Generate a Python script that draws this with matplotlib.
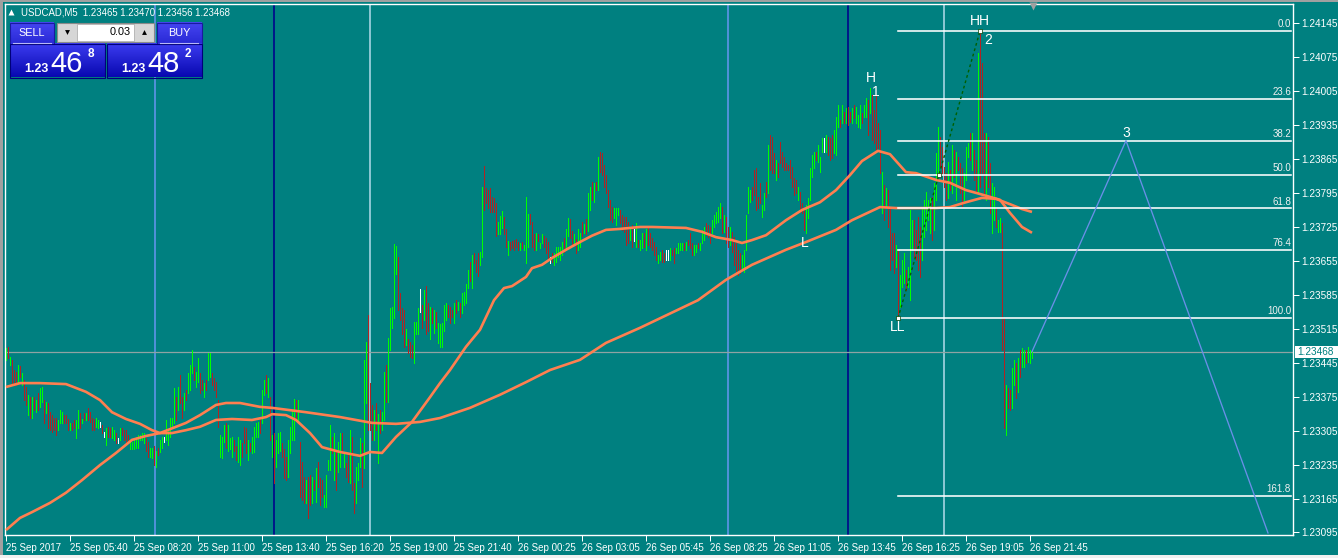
import numpy as np
import matplotlib
matplotlib.use("Agg")
import matplotlib.pyplot as plt
from matplotlib.patches import Rectangle
from matplotlib.transforms import blended_transform_factory
from matplotlib.colors import LinearSegmentedColormap

# ---------------- data (prices in points above 1.23000) ----------------
BASE = 1.23000
PT = 1e-5

bar_hi = [
    475, 477, 457, 450, 430, 426, 440, 438, 424, 410,
    394, 378, 374, 374, 374, 368, 382, 392, 394, 368,
    364, 362, 344, 338, 332, 332, 326, 348, 344, 338,
    338, 330, 320, 320, 326, 326, 348, 342, 330, 342,
    342, 352, 344, 332, 330, 332, 326, 322, 316, 302,
    310, 312, 310, 312, 306, 300, 290, 310, 310, 306,
    306, 296, 286, 282, 286, 292, 296, 296, 300, 300,
    290, 282, 270, 270, 274, 264, 270, 286, 292, 292,
    326, 306, 332, 332, 392, 374, 394, 420, 374, 382,
    388, 424, 440, 471, 436, 426, 455, 424, 410, 404,
    410, 465, 465, 424, 414, 406, 368, 296, 292, 316,
    320, 316, 290, 292, 286, 274, 292, 286, 280, 312,
    310, 286, 280, 292, 312, 320, 322, 332, 388, 410,
    420, 414, 374, 296, 300, 286, 300, 302, 280, 268,
    250, 286, 312, 348, 370, 368, 368, 282, 240, 209,
    203, 209, 213, 209, 203, 228, 240, 207, 203, 173,
    213, 244, 316, 292, 300, 260, 282, 300, 300, 258,
    238, 254, 306, 292, 197, 230, 238, 290, 280, 450,
    487, 544, 404, 358, 348, 362, 340, 348, 344, 426,
    440, 497, 558, 560, 689, 685, 663, 588, 558, 554,
    515, 495, 487, 481, 530, 530, 558, 598, 564, 594,
    604, 568, 560, 558, 554, 550, 528, 524, 528, 564,
    568, 564, 560, 554, 568, 574, 570, 568, 588, 590,
    608, 637, 653, 667, 671, 657, 671, 673, 807, 850,
    806, 801, 806, 787, 785, 775, 735, 747, 757, 745,
    721, 697, 693, 697, 699, 701, 693, 691, 693, 687,
    787, 751, 751, 735, 711, 713, 711, 691, 711, 707,
    703, 693, 663, 671, 671, 683, 683, 683, 693, 703,
    721, 743, 741, 717, 711, 701, 721, 713, 735, 731,
    741, 795, 807, 817, 815, 817, 869, 880, 877, 853,
    832, 801, 781, 766, 764, 764, 764, 760, 750, 746,
    746, 735, 725, 729, 721, 733, 698, 698, 713, 713,
    721, 723, 713, 702, 694, 684, 667, 673, 678, 671,
    678, 678, 682, 678, 682, 682, 692, 692, 692, 692,
    694, 698, 713, 692, 688, 688, 692, 692, 719, 725,
    733, 729, 725, 739, 750, 756, 766, 774, 766, 750,
    746, 725, 725, 715, 704, 692, 678, 671, 667, 678,
    750, 807, 801, 807, 842, 847, 787, 816, 770, 795,
    818, 894, 915, 911, 878, 863, 857, 900, 880, 869,
    857, 853, 863, 849, 826, 822, 807, 797, 774, 764,
    770, 785, 847, 873, 880, 880, 894, 869, 908, 908,
    915, 911, 908, 915, 925, 952, 977, 946, 977, 962,
    970, 972, 962, 970, 977, 972, 956, 977, 960, 977,
    991, 987, 1012, 997, 966, 997, 939, 925, 838, 812,
    805, 801, 766, 713, 713, 688, 678, 626, 657, 671,
    636, 642, 760, 739, 739, 719, 746, 725, 766, 781,
    797, 781, 785, 787, 816, 878, 931, 911, 890, 849,
    836, 859, 842, 894, 884, 880, 869, 857, 847, 836,
    890, 898, 919, 919, 884, 863, 1084, 1129, 1063, 919,
    919, 911, 857, 816, 807, 764, 739, 743, 733, 537,
    399, 393, 389, 434, 451, 444, 455, 471, 475, 471,
    471, 477, 471, 471,
]

bar_lo = [
    450, 455, 440, 404, 400, 400, 404, 416, 400, 368,
    358, 338, 332, 332, 348, 344, 348, 354, 364, 320,
    342, 310, 306, 302, 306, 296, 306, 320, 320, 320,
    320, 306, 306, 306, 310, 290, 310, 310, 320, 326,
    326, 326, 322, 306, 306, 312, 310, 312, 300, 292,
    276, 292, 292, 290, 286, 280, 280, 286, 296, 286,
    282, 282, 268, 268, 268, 270, 270, 286, 286, 280,
    264, 250, 250, 248, 234, 230, 254, 260, 270, 282,
    286, 276, 292, 312, 320, 326, 348, 362, 332, 348,
    368, 382, 388, 424, 410, 394, 406, 382, 388, 374,
    388, 410, 416, 400, 388, 374, 312, 250, 248, 282,
    270, 264, 268, 250, 264, 244, 240, 234, 250, 280,
    258, 244, 264, 258, 260, 292, 292, 300, 320, 378,
    382, 374, 286, 250, 197, 230, 258, 264, 250, 207,
    203, 209, 258, 286, 286, 332, 322, 169, 163, 155,
    155, 125, 151, 155, 183, 157, 189, 151, 169, 147,
    147, 224, 224, 258, 203, 183, 220, 230, 258, 230,
    209, 199, 197, 183, 135, 155, 203, 230, 189, 228,
    362, 306, 306, 286, 286, 306, 238, 300, 306, 326,
    364, 364, 471, 517, 538, 627, 554, 534, 505, 477,
    481, 465, 457, 455, 444, 505, 505, 550, 517, 534,
    505, 511, 495, 528, 507, 517, 485, 477, 477, 511,
    534, 540, 528, 540, 528, 548, 554, 540, 548, 564,
    568, 600, 614, 600, 651, 633, 623, 647, 663, 761,
    775, 765, 755, 755, 755, 707, 711, 711, 723, 711,
    683, 667, 677, 681, 677, 683, 677, 677, 681, 677,
    651, 683, 731, 683, 677, 677, 697, 681, 691, 683,
    671, 657, 651, 653, 647, 653, 663, 657, 667, 673,
    677, 707, 703, 687, 687, 671, 677, 683, 707, 713,
    711, 717, 761, 781, 777, 801, 801, 838, 832, 807,
    795, 766, 739, 735, 744, 729, 750, 733, 719, 715,
    688, 692, 698, 684, 696, 684, 684, 678, 682, 684,
    678, 688, 684, 678, 667, 657, 651, 657, 653, 653,
    657, 657, 657, 667, 651, 671, 671, 678, 678, 678,
    678, 688, 682, 667, 667, 673, 682, 678, 692, 698,
    708, 704, 692, 713, 725, 733, 735, 743, 713, 715,
    692, 684, 688, 673, 647, 632, 626, 630, 636, 632,
    678, 754, 776, 781, 791, 760, 764, 774, 746, 760,
    787, 795, 842, 836, 836, 822, 828, 857, 849, 842,
    842, 842, 826, 807, 791, 795, 781, 756, 754, 719,
    713, 743, 781, 828, 847, 863, 859, 838, 880, 880,
    880, 873, 863, 867, 878, 873, 931, 931, 939, 939,
    939, 935, 941, 939, 950, 939, 931, 929, 939, 952,
    952, 915, 960, 904, 898, 884, 888, 836, 754, 739,
    766, 725, 636, 657, 630, 642, 537, 560, 601, 609,
    595, 601, 574, 678, 663, 657, 636, 622, 657, 704,
    719, 739, 713, 698, 719, 781, 828, 849, 836, 807,
    781, 785, 801, 795, 828, 781, 842, 795, 766, 781,
    822, 869, 863, 842, 822, 795, 795, 807, 836, 787,
    781, 807, 754, 713, 739, 725, 715, 715, 471, 310,
    296, 352, 348, 352, 399, 372, 385, 416, 436, 436,
    444, 446, 444, 455,
]

# u = up bar, d = down bar, n = unchanged
bar_dir = ("ududddudud" "dudududuud" "uddddduuud" "ddudduudud" "udddduundn"
           "udduudnudd" "dduuuuuuuu" "dduududuun" "uuuuududdu" "duuuduuddu"
           "duudddduuu" "duuudduudd" "duduuuuduu" "dududuuudd" "duuuududdd"
           "uddududddu" "uuududuudu" "ddudduuudu" "udddududuu" "duuuuudddd"
           "uddduuundu" "ddududuuuu" "udddududuu" "uududdduud" "dddddduuud"
           "dudddddudu" "uuddduduud" "ddnduuuuud" "uudduduudu" "duudududdd"
           "dddduuuddd" "ddudnuduud" "uddddduudd" "nnudduuuud" "uddduuduuu"
           "ddduuuuudu" "dduddddduu" "uuuddddduu" "dudddudddd" "dddddduddd"
           "uuuuuduuun" "uddduuudud" "udduduuudu" "ududddddud" "udddduduuu"
           "duuudddduu" "uuuduuuddd" "dudududddu" "uududduddd" "udduuduudd"
           "udduududuu" "duuu")

# moving averages (bar index, points)
ma_fast_idx = [0, 7, 17, 30, 40, 47, 53, 60, 67, 73, 77, 83, 90, 97, 105, 113, 123, 130, 133,
               140, 145, 152, 158, 167, 177, 182, 188, 195, 203, 212, 217, 222, 230, 237, 244,
               249, 253, 260, 263, 268, 273, 280, 287, 293, 300, 307, 317, 323, 340, 348, 355,
               363, 368, 373, 380, 390, 398, 407, 415, 422, 428, 436, 442, 450, 455, 465, 472,
               480, 487, 492, 497, 502, 508, 513]
ma_fast_val = [395, 403, 403, 401, 385, 368, 343, 329, 319, 306, 300, 300, 306, 313, 327, 329, 327,
               333, 339, 337, 327, 300, 271, 261, 253, 261, 259, 292, 323, 374, 403, 430, 478, 513,
               574, 599, 603, 622, 640, 647, 661, 678, 694, 707, 719, 721, 725, 725, 723, 715, 704,
               698, 692, 698, 708, 739, 760, 776, 801, 832, 861, 882, 875, 838, 836, 822, 816, 801,
               793, 787, 781, 754, 725, 713]
ma_slow_idx = [0, 7, 13, 22, 30, 38, 47, 55, 63, 70, 77, 90, 97, 105, 110, 117, 127, 133, 150,
               167, 183, 195, 207, 217, 232, 247, 260, 272, 287, 300, 317, 346, 360, 373, 390,
               400, 415, 423, 437, 445, 465, 472, 480, 488, 495, 502, 508, 513]
ma_slow_val = [100, 125, 137, 156, 177, 203, 234, 259, 286, 294, 300, 321, 337, 358, 362, 362, 354,
               352, 343, 333, 321, 319, 323, 331, 352, 379, 405, 430, 451, 486, 517, 574, 616, 647,
               678, 694, 719, 739, 766, 764, 764, 766, 776, 785, 783, 772, 762, 756]

# zigzag / fibo
ll_idx, ll_val = 446, 537
hh_idx, hh_val = 487, 1129
zz_idx = [446, 466.5, 487]
zz_val = [537, 833, 1129]
fib_levels = [0.0, 23.6, 38.2, 50.0, 61.8, 76.4, 100.0, 161.8]
proj_idx = [513, 560, 631]
proj_val = [468, 903, 94]
bid = 468

vlines_idx = [74.5, 134, 182, 361, 421, 469]
vlines_col = ["#6495ED", "#00008B", "#ADD8E6", "#6495ED", "#00008B", "#ADD8E6"]

price_ticks = [1.24145, 1.24075, 1.24005, 1.23935, 1.23865, 1.23795, 1.23725,
               1.23655, 1.23585, 1.23515, 1.23445, 1.23375, 1.23305, 1.23235,
               1.23165, 1.23095]
time_tick_idx = list(range(0, 513, 32))
time_labels = ["25 Sep 2017", "25 Sep 05:40", "25 Sep 08:20", "25 Sep 11:00", "25 Sep 13:40",
               "25 Sep 16:20", "25 Sep 19:00", "25 Sep 21:40", "26 Sep 00:25", "26 Sep 03:05",
               "26 Sep 05:45", "26 Sep 08:25", "26 Sep 11:05", "26 Sep 13:45", "26 Sep 16:25",
               "26 Sep 19:05", "26 Sep 21:45"]

# ---------------- figure ----------------
W, H = 1338, 558
BG = "#008080"
FONT = "Liberation Sans"
PX = 0.72  # one pixel in points
LN = 1.15  # object lines
fig = plt.figure(figsize=(W / 100, H / 100), dpi=100, facecolor=BG)
ax = fig.add_axes([5 / W, (H - 535) / H, 1288 / W, 531 / H])
ax.set_facecolor(BG)

def P(v):
    return BASE + np.asarray(v, dtype=float) * PT

n = min(len(bar_hi), len(bar_lo), len(bar_dir))
xs = np.arange(n)
his = P(bar_hi[:n])
los = P(bar_lo[:n])
cmap = {"u": "#00FF00", "d": "#B22222", "n": "#FFFFFF"}
cols = [cmap[c] for c in bar_dir[:n]]

# vertical user lines
for xi, c in zip(vlines_idx, vlines_col):
    ax.axvline(xi, color=c, lw=LN, zorder=1)

# bid line
ax.axhline(P(bid), color="#8FA3A3", lw=0.9, zorder=1.5)

# bars
ax.vlines(xs, los, his, colors=cols, linewidth=PX, zorder=2, antialiased=False)

# moving averages
ax.plot(ma_slow_idx, P(ma_slow_val), color="#FF7F50", lw=1.9, zorder=3, solid_capstyle="butt")
ax.plot(ma_fast_idx, P(ma_fast_val), color="#FF7F50", lw=1.9, zorder=3, solid_capstyle="butt")

# fibo lines
hh_p, ll_p = P(hh_val), P(ll_val)
for lv in fib_levels:
    pr = hh_p - lv / 100.0 * (hh_p - ll_p)
    ax.plot([ll_idx, 642.5], [pr, pr], color="white", lw=LN, zorder=4)
    ax.annotate(f"{lv:.1f}", xy=(642.5, pr), xytext=(0, 1.4), textcoords="offset points",
                ha="right", va="bottom", color="#F0F0F0", fontsize=7.0, family=FONT, zorder=5)

# zigzag dotted line and pivots
ax.plot(zz_idx, P(zz_val), color="#006000", lw=1.0, ls=(0, (2, 2)), zorder=4)
ax.plot(zz_idx, P(zz_val), ls="none", marker="s", ms=3, mfc="white", mec="#004000", mew=0.5, zorder=6)

# projection line
ax.plot(proj_idx, P(proj_val), color="#6A8FE8", lw=0.95, zorder=4)

# wave labels
lab_kw = dict(color="white", fontsize=10, family=FONT, ha="center", va="center", zorder=7)
ax.text(432.5, P(1032), "H", **lab_kw)
ax.text(435.0, P(1003), "1", **lab_kw)
ax.text(487.0, P(1150), "HH", **lab_kw)
ax.text(491.0, P(1111), "2", **lab_kw)
ax.text(399.5, P(692), "L", **lab_kw)
ax.text(446.0, P(519), "LL", **lab_kw)
ax.text(560.0, P(919), "3", **lab_kw)

# axes ranges
ax.set_xlim(-0.5, 643.5)
ax.set_ylim(1.230898, 1.241848)

# right price axis
ax.yaxis.tick_right()
ax.set_yticks(price_ticks)
ax.set_yticklabels([f"{p:.5f}" for p in price_ticks])
ax.tick_params(axis="y", colors="white", length=4, width=PX, pad=2, labelsize=7.2)
ax.set_xticks(time_tick_idx)
ax.set_xticklabels(time_labels)
ax.tick_params(axis="x", colors="white", length=4, width=PX, pad=1.5, labelsize=7.0)
for lbl in ax.get_xticklabels() + ax.get_yticklabels():
    lbl.set_family(FONT)
for lbl in ax.get_xticklabels():
    lbl.set_ha("left")
for sp in ax.spines.values():
    sp.set_color("white")
    sp.set_linewidth(1.0)

# bid label on price axis
tr = blended_transform_factory(ax.transAxes, ax.transData)
bh = 12 / 48500.0
ax.add_patch(Rectangle((1.0016, P(bid) - bh / 2), 0.035, bh, transform=tr, clip_on=False,
                       facecolor="white", edgecolor="none", zorder=8))
ax.text(1.0035, P(bid), "1.23468", transform=tr, color=BG, fontsize=7.2, family=FONT,
        ha="left", va="center", clip_on=False, zorder=9)

# ---------------- overlay (window chrome + trading panel) ----------------
ov = fig.add_axes([0, 0, 1, 1], zorder=10)
ov.set_xlim(0, W)
ov.set_ylim(H, 0)
ov.axis("off")
ov.patch.set_alpha(0)

ov.add_patch(Rectangle((0, 0), W, 2, facecolor="#A0A0A0", edgecolor="none"))
ov.add_patch(Rectangle((0, 0), 2.5, H, facecolor="#A0A0A0", edgecolor="none"))
ov.add_patch(Rectangle((0, 555), W, 3, facecolor="#F0F0F0", edgecolor="none"))
ov.plot([1033], [6], marker="v", ms=6, color="#A0A0A0", mec="none")

def grad_rect(x0, y0, x1, y1, ctop, cbot, edge=None, z=11):
    cm = LinearSegmentedColormap.from_list("g", [ctop, cbot])
    g = np.linspace(0, 1, 64).reshape(-1, 1)
    ov.imshow(g, extent=(x0, x1, y1, y0), cmap=cm, aspect="auto", zorder=z,
              interpolation="bilinear")
    if edge:
        ov.add_patch(Rectangle((x0, y0), x1 - x0, y1 - y0, facecolor="none",
                               edgecolor=edge, lw=0.8, zorder=z + 0.1))

# header
ov.plot([11], [12], marker="^", ms=4.5, color="white", mec="none", zorder=12)
ov.text(21, 12.5, "USDCAD,M5  1.23465 1.23470 1.23456 1.23468", color="white",
        fontsize=6.9, family=FONT, va="center", ha="left", zorder=12)

# SELL / BUY buttons
grad_rect(9.5, 22.5, 53.5, 43.5, "#4646F2", "#2A2AD6", edge="#1A1AA0")
grad_rect(156.5, 22.5, 201.5, 43.5, "#4646F2", "#2A2AD6", edge="#1A1AA0")
ov.text(31.5, 32.5, "SELL", color="white", fontsize=7.8, family=FONT, ha="center", va="center", zorder=12)
ov.text(179, 32.5, "BUY", color="white", fontsize=7.8, family=FONT, ha="center", va="center", zorder=12)
ov.plot([13, 51], [42.5, 42.5], color="#B8B8F8", lw=0.8, zorder=12)
ov.plot([160, 198], [42.5, 42.5], color="#B8B8F8", lw=0.8, zorder=12)

# lot box
ov.add_patch(Rectangle((56.5, 22.5), 97, 19, facecolor="#D6D6D6", edgecolor="#8A8A8A", lw=0.8, zorder=11))
ov.add_patch(Rectangle((76.5, 23.5), 57, 17, facecolor="white", edgecolor="#B0B0B0", lw=0.6, zorder=11.5))
ov.plot([67], [32], marker="v", ms=3.5, color="black", mec="none", zorder=12)
ov.plot([143.5], [31.5], marker="^", ms=3.5, color="black", mec="none", zorder=12)
ov.text(131, 32, "0.03", color="black", fontsize=7.8, family=FONT, ha="right", va="center", zorder=12)

# price panels
grad_rect(9.5, 44, 104.5, 77.5, "#3C3CF0", "#0808B0", edge="#00007A")
grad_rect(106.5, 44, 201.5, 77.5, "#3C3CF0", "#0808B0", edge="#00007A")
big = dict(color="white", family=FONT, zorder=12)
ov.text(24, 72, "1.23", fontsize=9, fontweight="bold", ha="left", va="baseline", **big)
ov.text(50, 72.5, "46", fontsize=21, ha="left", va="baseline", **big)
ov.text(88, 57, "8", fontsize=8.5, fontweight="bold", ha="left", va="baseline", **big)
ov.text(121, 72, "1.23", fontsize=9, fontweight="bold", ha="left", va="baseline", **big)
ov.text(147, 72.5, "48", fontsize=21, ha="left", va="baseline", **big)
ov.text(185, 57, "2", fontsize=8.5, fontweight="bold", ha="left", va="baseline", **big)

fig.savefig("out.png", dpi=100, facecolor=BG)
